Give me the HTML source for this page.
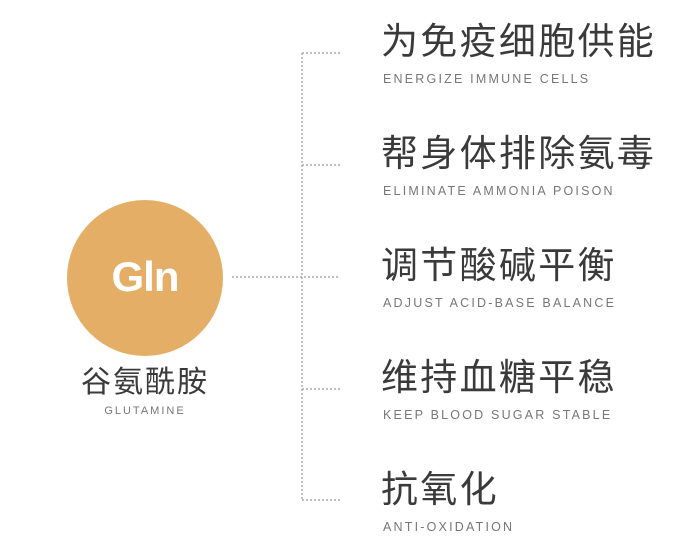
<!DOCTYPE html>
<html><head><meta charset="utf-8"><style>
body{margin:0;width:694px;height:555px;background:#fff;position:relative;overflow:hidden;font-family:"Liberation Sans","Noto Sans CJK SC",sans-serif}
.a{position:absolute;white-space:nowrap}
.cn{font-size:37px;color:#3a3a3a;left:381px;line-height:42px;letter-spacing:2.3px}
.en{font-size:12.5px;color:#777;left:383px;letter-spacing:2.2px;line-height:14px}
.c{position:absolute;left:67px;top:200px;width:156px;height:156px;border-radius:50%;background:#e4ae66}
</style></head><body>
<svg class="a" style="left:0;top:0" width="694" height="555">
<g stroke="#999" stroke-width="1.2" stroke-dasharray="2,2" fill="none">
<line x1="302" y1="53" x2="302" y2="500"/>
<line x1="302" y1="53" x2="340" y2="53"/>
<line x1="302" y1="165" x2="340" y2="165"/>
<line x1="232" y1="277" x2="340" y2="277"/>
<line x1="302" y1="389" x2="340" y2="389"/>
<line x1="302" y1="500" x2="340" y2="500"/>
</g></svg>
<div class="c"></div>
<div class="a" style="left:67px;width:156px;top:252px;text-align:center;color:#fff;font-weight:bold;font-size:42px;line-height:50px;letter-spacing:-1px">Gln</div>
<div class="a" style="left:65px;width:160px;top:364px;text-align:center;color:#3a3a3a;font-size:30px;line-height:38px;letter-spacing:2px">谷氨酰胺</div>
<div class="a" style="left:67px;width:156px;top:405px;text-align:center;color:#777;font-size:11px;letter-spacing:2px;line-height:13px">GLUTAMINE</div>

<div class="a cn" style="top:21px">为免疫细胞供能</div>
<div class="a en" style="top:72px">ENERGIZE IMMUNE CELLS</div>
<div class="a cn" style="top:133px">帮身体排除氨毒</div>
<div class="a en" style="top:184px">ELIMINATE AMMONIA POISON</div>
<div class="a cn" style="top:245px">调节酸碱平衡</div>
<div class="a en" style="top:296px">ADJUST ACID-BASE BALANCE</div>
<div class="a cn" style="top:357px">维持血糖平稳</div>
<div class="a en" style="top:408px">KEEP BLOOD SUGAR STABLE</div>
<div class="a cn" style="top:469px">抗氧化</div>
<div class="a en" style="top:520px">ANTI-OXIDATION</div>
</body></html>
